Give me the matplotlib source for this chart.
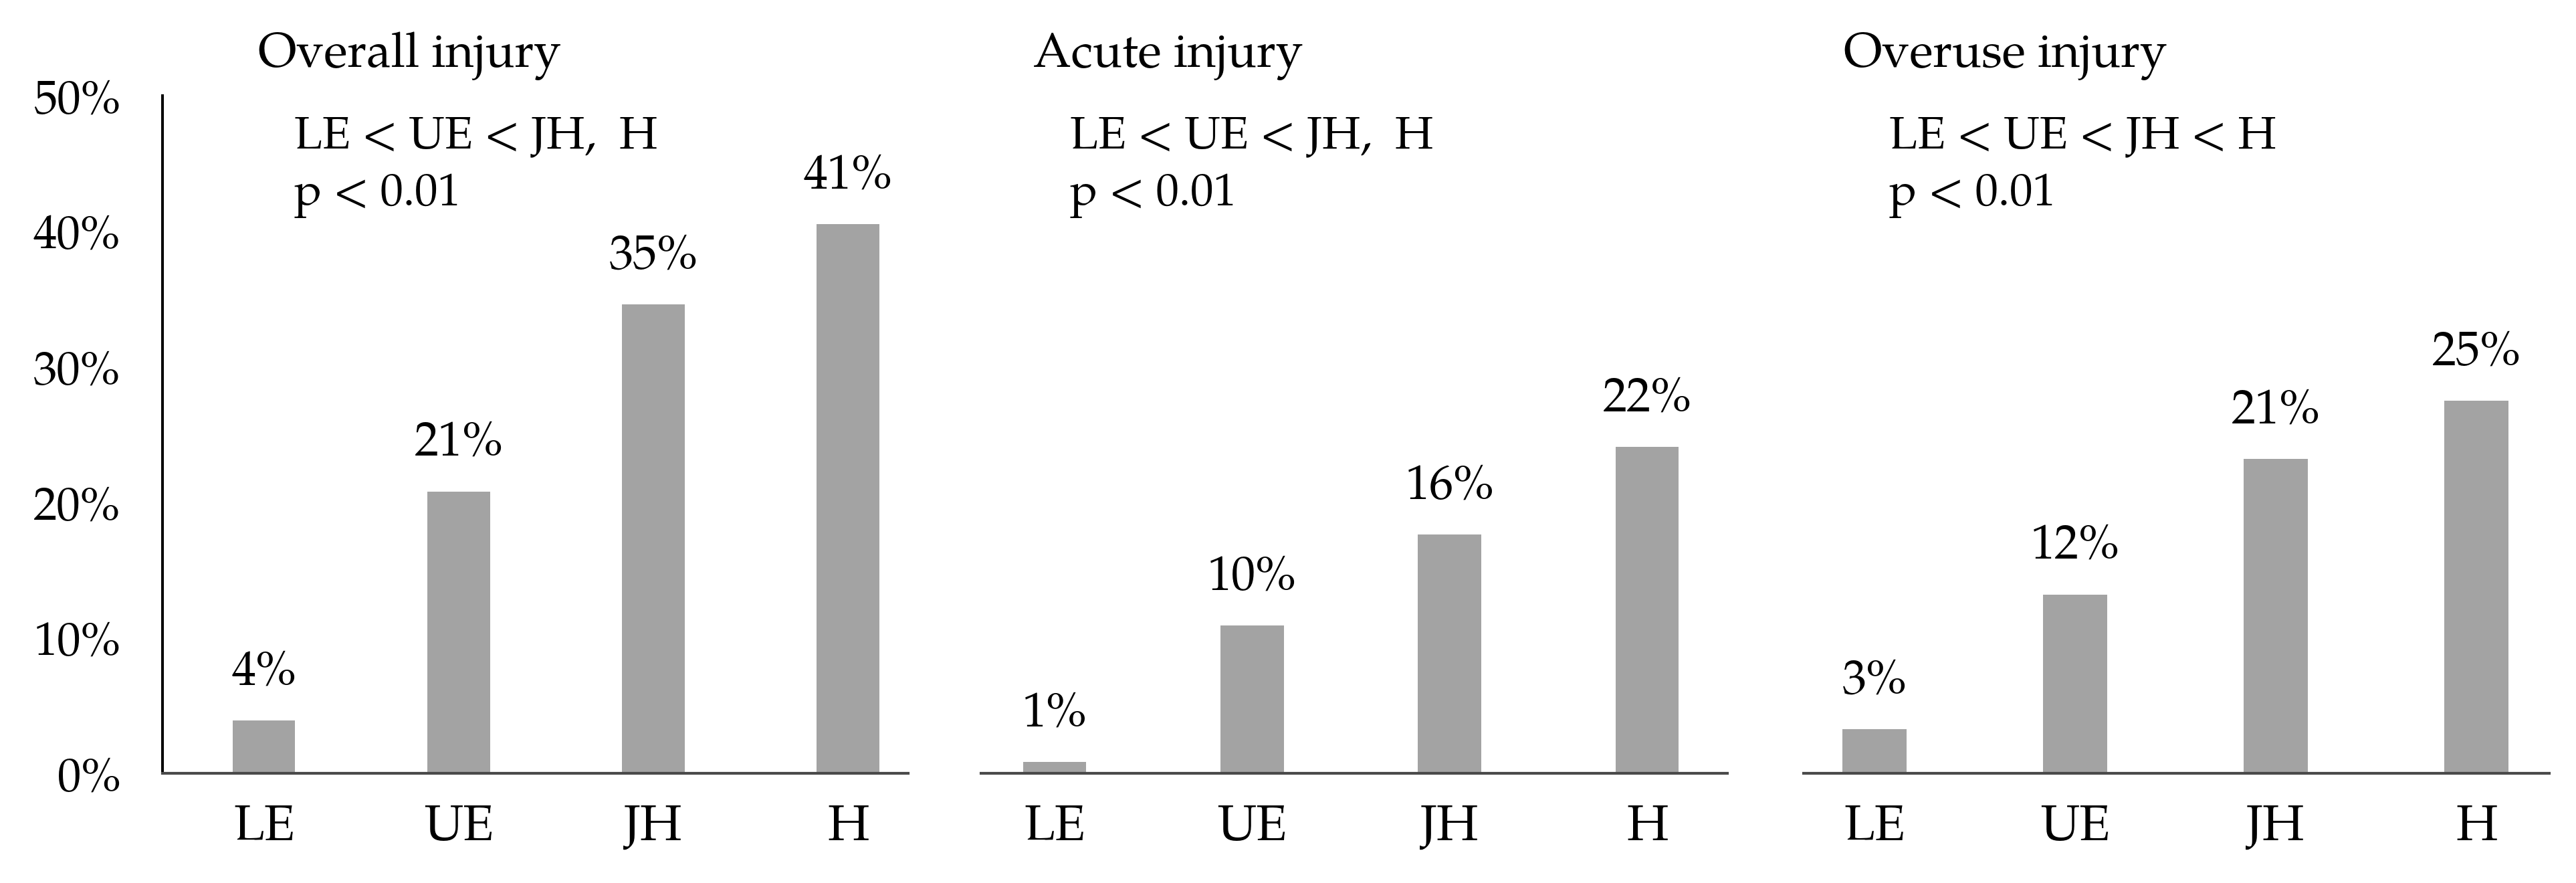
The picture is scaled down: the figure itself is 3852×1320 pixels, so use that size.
import matplotlib
matplotlib.use("Agg")
import matplotlib.pyplot as plt

# ---------------- data ----------------
categories = ["LE", "UE", "JH", "H"]
panel_titles = ["Overall injury", "Acute injury", "Overuse injury"]
stats_line1 = ["LE < UE < JH,  H", "LE < UE < JH,  H", "LE < UE < JH < H"]
stats_line2 = ["p < 0.01", "p < 0.01", "p < 0.01"]

overall_values = [3.9, 20.8, 34.6, 40.5]
acute_values = [0.85, 10.9, 17.6, 24.1]
overuse_values = [3.25, 13.2, 23.2, 27.5]

overall_labels = ["4%", "21%", "35%", "41%"]
acute_labels = ["1%", "10%", "16%", "22%"]
overuse_labels = ["3%", "12%", "21%", "25%"]

y_ticks = [0, 10, 20, 30, 40, 50]
y_tick_labels = ["0%", "10%", "20%", "30%", "40%", "50%"]

# ---------------- style ----------------
plt.rcParams["font.family"] = ["Palatino Linotype", "Book Antiqua", "P052",
                               "TeX Gyre Pagella", "URW Palladio L",
                               "Liberation Serif", "DejaVu Serif"]
W, H = 3852, 1320
DPI = 100
fig = plt.figure(figsize=(W / DPI, H / DPI), dpi=DPI, facecolor="white")

bar_color = "#a3a3a3"
axis_top_px, axis_bottom_px = 143, 1156
panels = [
    dict(left=243, right=1358, xlim=(-0.522, 3.309),
         values=overall_values, labels=overall_labels, yaxis=True),
    dict(left=1467, right=2583, xlim=(-0.3725, 3.406),
         values=acute_values, labels=acute_labels, yaxis=False),
    dict(left=2697, right=3812, xlim=(-0.353, 3.363),
         values=overuse_values, labels=overuse_labels, yaxis=False),
]
title_x = [386, 1545, 2757]
stats_x = [440, 1600, 2825]

x_pos = list(range(len(categories)))

for i, p in enumerate(panels):
    rect = [p["left"] / W, (H - axis_bottom_px) / H,
            (p["right"] - p["left"]) / W, (axis_bottom_px - axis_top_px) / H]
    ax = fig.add_axes(rect)
    ax.bar(x_pos, p["values"], width=0.32, color=bar_color, zorder=2)
    ax.set_xlim(*p["xlim"])
    ax.set_ylim(0, 50)
    for sp in ["top", "right"]:
        ax.spines[sp].set_visible(False)
    ax.spines["bottom"].set_color("#4a4a4a")
    ax.spines["bottom"].set_linewidth(3.0)
    ax.spines["bottom"].set_zorder(3)
    ax.set_xticks(x_pos)
    ax.set_xticklabels(categories, fontsize=54)
    ax.tick_params(axis="x", length=0, pad=32)
    if p["yaxis"]:
        ax.spines["left"].set_color("black")
        ax.spines["left"].set_linewidth(2.9)
        ax.set_yticks(y_ticks)
        ax.set_yticklabels(y_tick_labels, fontsize=51)
        ax.tick_params(axis="y", length=0, pad=45)
    else:
        ax.spines["left"].set_visible(False)
        ax.set_yticks([])
    for xv, v, lab in zip(x_pos, p["values"], p["labels"]):
        ax.annotate(lab, xy=(xv, v), xytext=(0, 38.5), textcoords="offset points",
                    ha="center", va="baseline", fontsize=52)

    fig.text(title_x[i] / W, 1 - 100 / H, panel_titles[i], fontsize=52.5,
             ha="left", va="baseline")
    fig.text(stats_x[i] / W, 1 - 221 / H, stats_line1[i], fontsize=49.5,
             ha="left", va="baseline")
    fig.text(stats_x[i] / W, 1 - 307 / H, stats_line2[i], fontsize=49.5,
             ha="left", va="baseline")

fig.savefig("out.png", dpi=DPI, facecolor="white")
